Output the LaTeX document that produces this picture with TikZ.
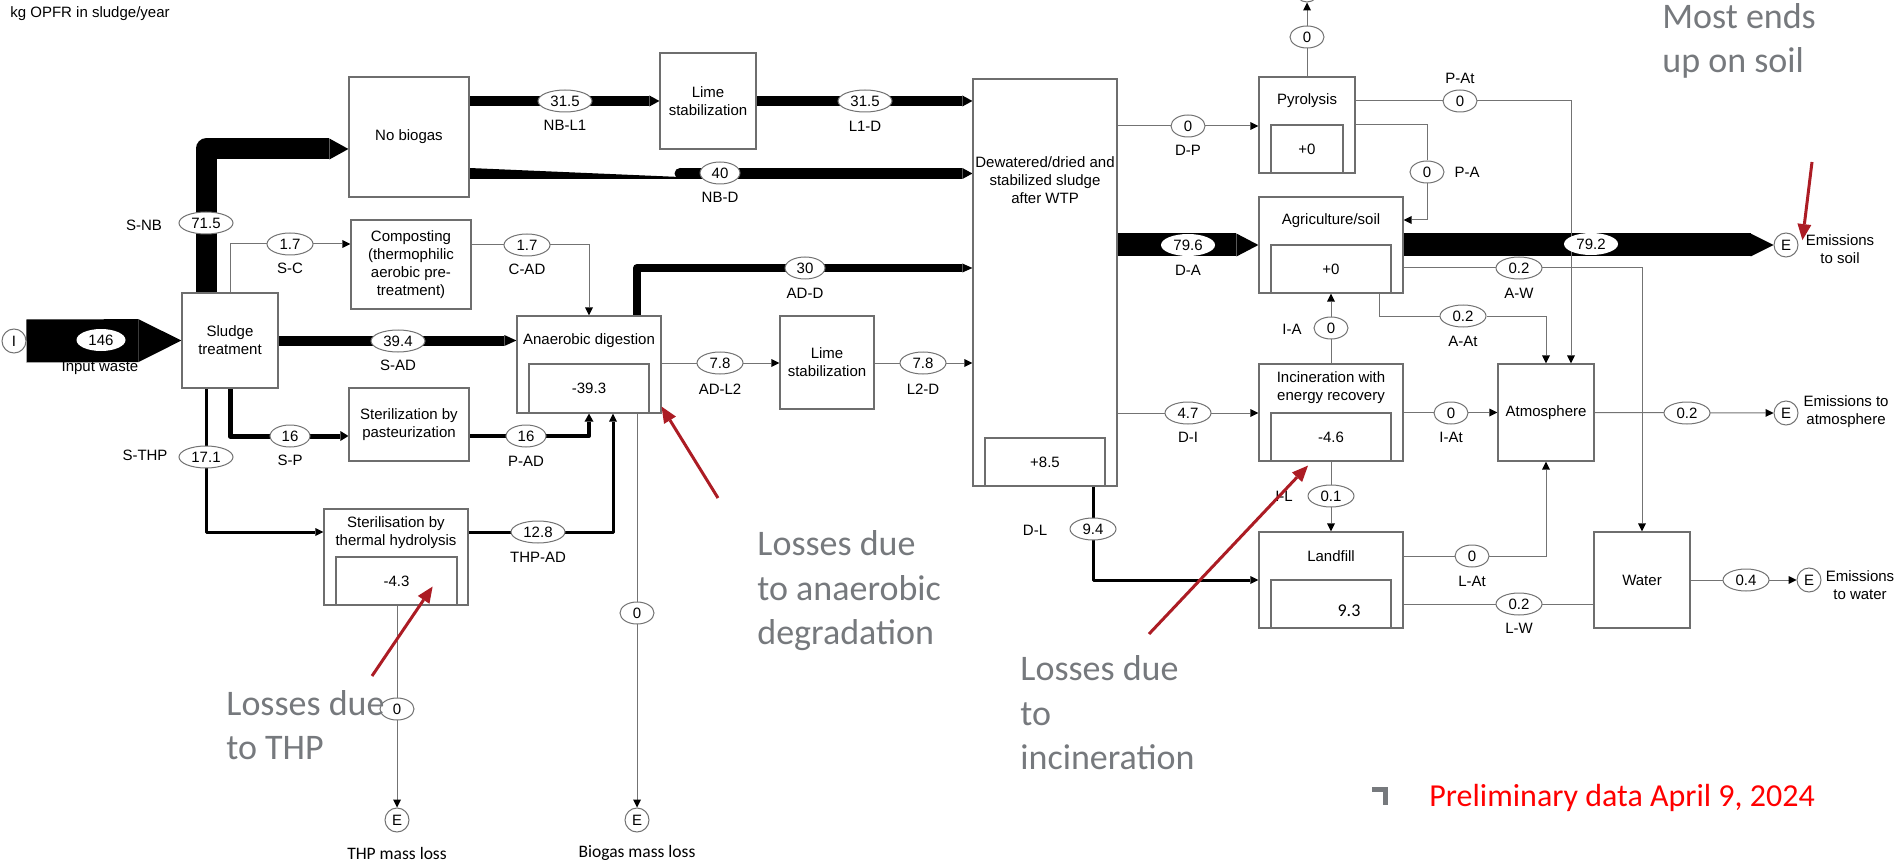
\documentclass[tikz,border=0pt]{standalone}
\usepackage{fontspec}
\setmainfont{Liberation Sans}
\newfontfamily\calibri{Carlito}
\usetikzlibrary{shapes.geometric,arrows.meta,calc,backgrounds}
\definecolor{boxgray}{RGB}{110,110,110}
\definecolor{linegray}{RGB}{115,115,115}
\definecolor{notegray}{RGB}{118,121,125}
\definecolor{darkred}{RGB}{172,28,36}
\begin{document}
\begin{tikzpicture}[x=0.5pt,y=-0.5pt,
  font=\fontsize{7.5}{9}\selectfont,
  box/.style={draw=boxgray, fill=white, line width=0.6pt, inner sep=0pt, align=center},
  val/.style={ellipse, draw=linegray, fill=white, line width=0.5pt, inner sep=0pt, minimum height=11pt},
  v1/.style={val, minimum width=17pt},
  v2/.style={val, minimum width=20pt},
  v3/.style={val, minimum width=23pt},
  v4/.style={val, minimum width=27pt},
  lbl/.style={inner sep=0pt},
  txt/.style={inner sep=0pt, align=center},
  ecirc/.style={circle, draw=linegray, fill=white, line width=0.5pt, minimum size=12pt, inner sep=0pt},
  tflow/.style={draw=linegray, line width=0.5pt, -{Triangle[length=4pt,width=4pt,line width=0pt,color=black]}},
  tline/.style={draw=linegray, line width=0.5pt},
  fflow/.style={draw=black, line join=round},
  note/.style={font={\calibri\fontsize{18}{22.25}\selectfont}, text=notegray, align=left, inner sep=0pt, anchor=west},
  redarr/.style={draw=darkred, line width=1.5pt, -{Triangle[length=8pt,width=7pt,line width=0pt]}}
]
\useasboundingbox (0,0) rectangle (1895,861);

% ---------- title ----------
\node[anchor=west, inner sep=0pt] (title) at (10,14) {kg OPFR in sludge/year};

% ---------- process boxes ----------
\node[box, minimum width=60pt, minimum height=60pt] (NB) at (409,137) {No biogas};
\node[box, minimum width=48pt, minimum height=48pt] (L1) at (708,101) {Lime\\stabilization};
\node[box, minimum width=60pt, minimum height=44.5pt] (Comp) at (411,264.5) {Composting\\(thermophilic\\aerobic pre-\\treatment)};
\node[box, minimum width=48pt, minimum height=47.5pt] (ST) at (230,340.5) {Sludge\\treatment};
\node[box, minimum width=72pt, minimum height=48.5pt] (AD) at (589,364.5) {};
\node[txt] (ADt) at (589,341) {Anaerobic digestion};
\node[box, minimum width=60pt, minimum height=24.5pt] (ADi) at (589,388.5) {-39.3};
\node[box, minimum width=47pt, minimum height=46.5pt] (L2) at (827,362.5) {Lime\\stabilization};
\node[box, minimum width=60pt, minimum height=36.5pt] (Past) at (409,424.5) {Sterilization by\\pasteurization};
\node[box, minimum width=72pt, minimum height=48pt] (THP) at (396,557) {};
\node[txt] (THPt) at (396,533) {Sterilisation by\\thermal hydrolysis};
\node[box, minimum width=60.5pt, minimum height=24pt] (THPi) at (396.5,581) {-4.3};
\node[box, minimum width=72pt, minimum height=203.5pt] (D) at (1045,282.5) {};
\node[txt] (Dt) at (1045,180) {Dewatered/dried and\\stabilized sludge\\after WTP};
\node[box, minimum width=60pt, minimum height=24pt] (Di) at (1045,462) {+8.5};
\node[box, minimum width=48pt, minimum height=48pt] (Pyr) at (1307,125) {};
\node[txt] (Pyrt) at (1307,101) {Pyrolysis};
\node[box, minimum width=36pt, minimum height=24pt] (Pyri) at (1307,149) {+0};
\node[box, minimum width=72pt, minimum height=48pt] (Agri) at (1331,245) {};
\node[txt] (Agrit) at (1331,221) {Agriculture/soil};
\node[box, minimum width=60pt, minimum height=24pt] (Agrii) at (1331,269) {+0};
\node[box, minimum width=72pt, minimum height=48.5pt] (Inc) at (1331,412.5) {};
\node[txt] (Inct) at (1331,388) {Incineration with\\energy recovery};
\node[box, minimum width=60pt, minimum height=24pt] (Inci) at (1331,437) {-4.6};
\node[box, minimum width=72pt, minimum height=48pt] (Land) at (1331,580) {};
\node[txt] (Landt) at (1331,556) {Landfill};
\node[box, minimum width=60pt, minimum height=24pt] (Landi) at (1331,604) {};
\node[txt, font={\calibri\fontsize{9}{11}\selectfont}] (Landv) at (1349,611) {9.3};
\node[box, minimum width=48pt, minimum height=48.5pt] (Atm) at (1546,412.5) {Atmosphere};
\node[box, minimum width=48pt, minimum height=48pt] (Water) at (1642,580) {Water};

% ---------- import / export circles ----------
\node[ecirc] (Iin) at (14,341) {I};
\node[ecirc] (Etop) at (1307,-10) {};
\node[ecirc] (Esoil) at (1786,245) {E};
\node[ecirc] (Eatm) at (1786,413) {E};
\node[ecirc] (Ewat) at (1809,580) {E};
\node[ecirc] (Ethp) at (397,820) {E};
\node[ecirc] (Ebio) at (637,820) {E};
\node[txt] (tsoil) at (1840,249) {Emissions\\to soil};
\node[txt] (tatm) at (1846,412) {Emissions to\\atmosphere};
\node[txt] (twat) at (1860,585) {Emissions\\to water};
\node[txt, font={\calibri\fontsize{8.75}{10}\selectfont}] (tthp) at (397,853) {THP mass loss};
\node[txt, font={\calibri\fontsize{8.75}{10}\selectfont}] (tbio) at (637,853) {Biogas mass loss};
\node[txt] (tin) at (100,368) {Input waste};

% ---------- flow values ----------
\node[v4] (e715) at (206,223) {71.5};
\node[v3] (eSC) at (290,244) {1.7};
\node[v3] (eCAD) at (527,245) {1.7};
\node[v4] (eNBL1) at (565,101) {31.5};
\node[v4] (eL1D) at (865,101) {31.5};
\node[v2] (eNBD) at (720,173) {40};
\node[v2] (eADD) at (805,268) {30};
\node[val, draw=none, minimum width=24.5pt] (eIn) at (101,340) {146};
\node[v4] (eSAD) at (398,341) {39.4};
\node[v2] (eSP) at (290,436) {16};
\node[v2] (ePAD) at (526,436) {16};
\node[v4] (eSTHP) at (206,457) {17.1};
\node[v4] (eTHPAD) at (538,532) {12.8};
\node[v3] (eADL2) at (720,363) {7.8};
\node[v3] (eL2D) at (923,363) {7.8};
\node[v1] (eBio) at (637,613) {0};
\node[v1] (eTHPl) at (397,709) {0};
\node[v1] (eDP) at (1188,126) {0};
\node[v4, draw=none] (eDA) at (1188,245) {79.6};
\node[v3] (eDI) at (1188,413) {4.7};
\node[v3] (eDL) at (1093,529) {9.4};
\node[v1] (ePyr) at (1307,37) {0};
\node[v1] (ePAt) at (1460,101) {0};
\node[v1] (ePA) at (1427,172) {0};
\node[v4, draw=none] (eAE) at (1591,244) {79.2};
\node[v3] (eAW) at (1519,268) {0.2};
\node[v3] (eAAt) at (1463,316) {0.2};
\node[v1] (eIA) at (1331,328) {0};
\node[v1] (eIAt) at (1451,413) {0};
\node[v3] (eIL) at (1331,496) {0.1};
\node[v1] (eLAt) at (1472,556) {0};
\node[v3] (eLW) at (1519,604) {0.2};
\node[v3] (eAtE) at (1687,413) {0.2};
\node[v3] (eWE) at (1746,580) {0.4};

% ---------- flow names ----------
\node[lbl] (lSNB) at (144,225) {S-NB};
\node[lbl] (lSC) at (290,268) {S-C};
\node[lbl] (lCAD) at (527,269) {C-AD};
\node[lbl] (lNBL1) at (565,125) {NB-L1};
\node[lbl] (lL1D) at (865,126) {L1-D};
\node[lbl] (lNBD) at (720,197) {NB-D};
\node[lbl] (lADD) at (805,293) {AD-D};
\node[lbl] (lSAD) at (398,365) {S-AD};
\node[lbl] (lSP) at (290,460) {S-P};
\node[lbl] (lPAD) at (526,461) {P-AD};
\node[lbl] (lSTHP) at (145,455) {S-THP};
\node[lbl] (lTHPAD) at (538,557) {THP-AD};
\node[lbl] (lADL2) at (720,389) {AD-L2};
\node[lbl] (lL2D) at (923,389) {L2-D};
\node[lbl] (lDP) at (1188,150) {D-P};
\node[lbl] (lDA) at (1188,270) {D-A};
\node[lbl] (lDI) at (1188,437) {D-I};
\node[lbl] (lDL) at (1035,530) {D-L};
\node[lbl] (lPAt) at (1460,78) {P-At};
\node[lbl] (lPA) at (1467,172) {P-A};
\node[lbl] (lAW) at (1519,293) {A-W};
\node[lbl] (lAAt) at (1463,341) {A-At};
\node[lbl] (lIA) at (1292,329) {I-A};
\node[lbl] (lIAt) at (1451,437) {I-At};
\node[lbl] (lIL) at (1284,496) {I-L};
\node[lbl] (lLAt) at (1472,581) {L-At};
\node[lbl] (lLW) at (1519,628) {L-W};

\coordinate (nbdJ) at (680,173.5);

% ---------- flows (behind) ----------
\begin{pgfonlayer}{background}
% thick flows
\draw[fflow, line width=21.5pt, -{Triangle[length=21.5pt,width=21.5pt,line width=0pt]}] (Iin.east) -- (ST.west);
\draw[fflow, line width=10.5pt, -{Triangle[length=9.5pt,width=10.5pt,line width=0pt]}] (ST.north -| e715) |- ($(NB.west)+(0,12)$);
\draw[fflow, line width=5pt, -{Triangle[length=5pt,width=5.5pt,line width=0pt]}] (NB.east |- L1.west) -- (L1.west);
\draw[fflow, line width=5pt, -{Triangle[length=5pt,width=5.5pt,line width=0pt]}] (L1.east) -- (D.west |- L1.east);
\fill[black] ($(NB.east)+(0,31)$) -- ($(NB.east)+(0,42)$) -- ($(nbdJ)+(0,5.5)$) -- ($(nbdJ)+(0,3.5)$) -- cycle;
\fill[black] (nbdJ) circle[radius=2.75pt];
\draw[fflow, line width=5.5pt, -{Triangle[length=5pt,width=5.5pt,line width=0pt]}] (nbdJ) -- (D.west |- nbdJ);
\draw[fflow, line width=5pt, -{Triangle[length=6pt,width=5.5pt,line width=0pt]}] (ST.east) -- (AD.west |- ST.east);
\draw[fflow, line width=4pt, -{Triangle[length=5pt,width=4.5pt,line width=0pt]}] (AD.north -| eBio) |- (D.west |- eADD);
\draw[fflow, line width=11.5pt, -{Triangle[length=11pt,width=11.5pt,line width=0pt]}] (D.east |- Agri.west) -- (Agri.west);
\draw[fflow, line width=11.5pt, -{Triangle[length=11.5pt,width=11.5pt,line width=0pt]}] (Agri.east) -- (Esoil.west);
\draw[fflow, line width=2.5pt, -{Triangle[length=4pt,width=5pt,line width=0pt]}] (ST.south) |- (Past.west |- eSP);
\draw[fflow, line width=2pt, -{Triangle[length=4pt,width=4.5pt,line width=0pt]}] (Past.east |- ePAD) -| (AD.south);
\draw[fflow, line width=1.5pt, -{Triangle[length=4pt,width=4pt,line width=0pt]}] (ST.south -| eSTHP) |- (THP.west |- eTHPAD);
\draw[fflow, line width=1.5pt, -{Triangle[length=4pt,width=4pt,line width=0pt]}] (THP.east |- eTHPAD) -| ($(AD.south)+(24,0)$);
\draw[fflow, line width=1.5pt, -{Triangle[length=4pt,width=4pt,line width=0pt]}] (D.south -| eDL) |- (Land.west);
% thin flows
\draw[tflow] (ST.north) |- (Comp.west |- eSC);
\draw[tflow] (Comp.east |- eCAD) -| (AD.north);
\draw[tflow] (AD.east |- eADL2) -- (L2.west |- eADL2);
\draw[tflow] (L2.east |- eL2D) -- (D.west |- eL2D);
\draw[tflow] (AD.south -| eBio) -- (Ebio.north);
\draw[tflow] (THP.south -| eTHPl) -- (Ethp.north);
\draw[tflow] (D.east |- eDP) -- (Pyr.west |- eDP);
\draw[tflow] (Pyr.north) -- (Etop.south);
\draw[tflow] (Pyr.east |- ePAt) -| ($(Atm.north)+(25,0)$);
\draw[tflow] (Pyr.east) -| (ePA) |- ($(Agri.east)+(0,-25)$);
\draw[tflow] (Agri.east |- eAW) -| (Water.north);
\draw[tflow] ($(Agri.south)+(48,0)$) |- (eAAt) -| (Atm.north);
\draw[tflow] (Inc.north) -- (Agri.south);
\draw[tflow] (D.east |- eDI) -- (Inc.west |- eDI);
\draw[tflow] (Inc.east) -- (Atm.west);
\draw[tflow] (Inc.south) -- (Land.north);
\draw[tflow] (Land.east |- eLAt) -| (Atm.south);
\draw[tline] (Land.east |- eLW) -- (Water.west |- eLW);
\draw[tflow] (Atm.east) -- (Eatm.west);
\draw[tflow] (Water.east) -- (Ewat.west);
\end{pgfonlayer}

% ---------- annotations ----------
\node[note] (nAD) at (757,591) {Losses due\\to anaerobic\\degradation};
\node[note] (nTHP) at (226,725) {Losses due\\to THP};
\node[note] (nInc) at (1020,713) {Losses due\\to\\incineration};
\node[note] (nSoil) at (1662,41) {Most ends\\up on soil};
\node[anchor=west, inner sep=0pt, text=red, font={\calibri\fontsize{16}{19}\selectfont}] (prelim) at (1429,798) {Preliminary data April 9, 2024};

\coordinate (r1s) at (718,498);
\coordinate (r2s) at (372,676);
\coordinate (r3s) at (1149,634);
\coordinate (r4s) at (1812,162);
\draw[redarr] (r1s) -- ($(AD.south east)+(0,-7)$);
\draw[redarr] (r2s) -- ($(THPi.south east)+(-25,-19)$);
\draw[redarr] (r3s) -- ($(Inci.south)+(-23,4)$);
\draw[redarr] (r4s) -- ($(tsoil.north west)+(-3,6)$);

\draw[notegray, line width=2.5pt] (1372,789.5) -- (1385.5,789.5) -- (1385.5,805);
\end{tikzpicture}
\end{document}
